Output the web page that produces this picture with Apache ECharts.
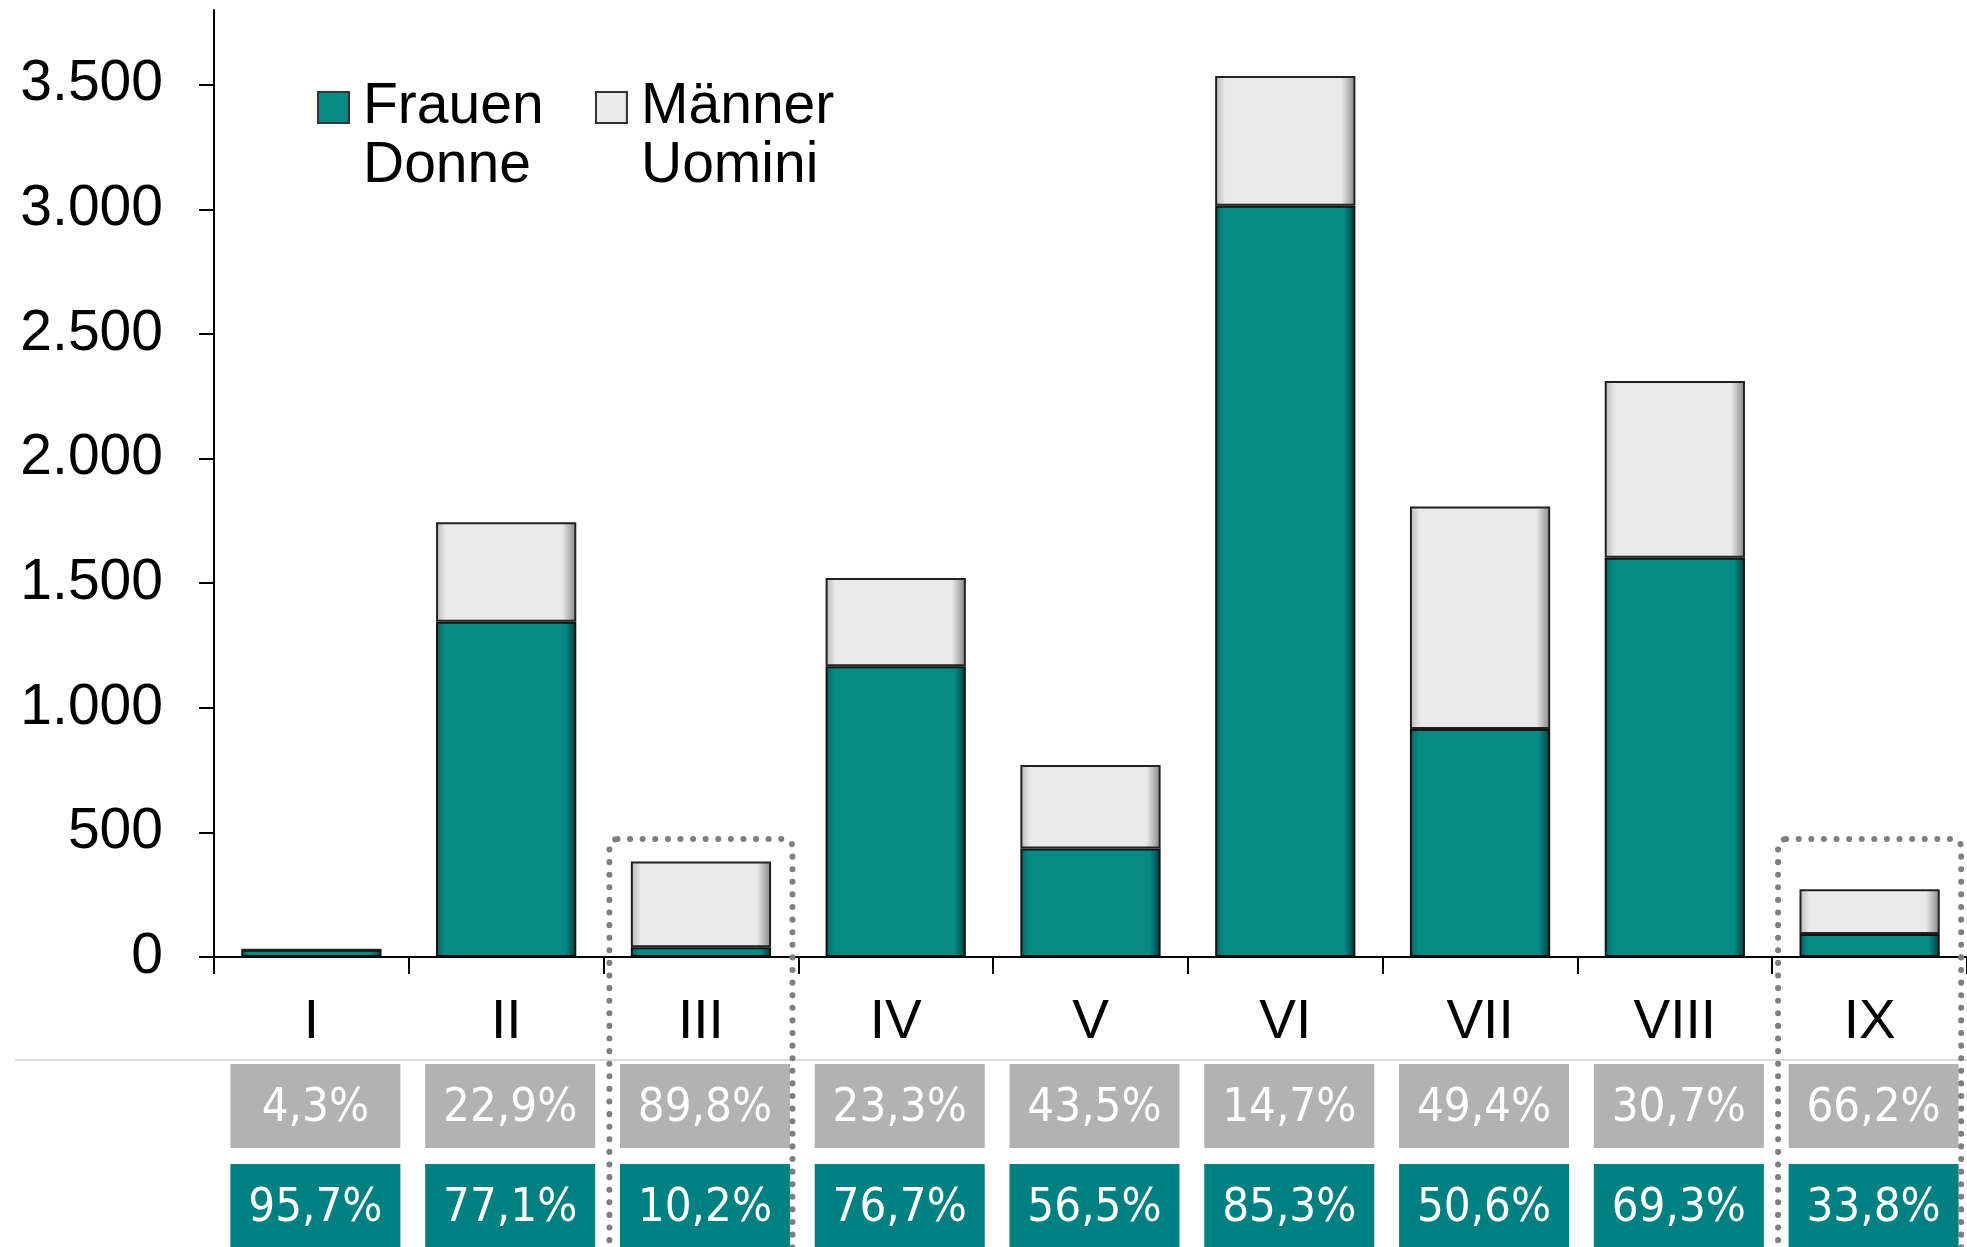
<!DOCTYPE html>
<html>
<head>
<meta charset="utf-8">
<script src="https://cdn.jsdelivr.net/npm/echarts@6/dist/echarts.min.js"></script>
<style>
  html, body { margin: 0; padding: 0; background: #fff; }
  #chart { width: 1967px; height: 1247px; }
</style>
</head>
<body>
<div id="chart"></div>
<script>
// data
const categories = ["I", "II", "III", "IV", "V", "VI", "VII", "VIII", "IX"];
const frauen = [29, 1345, 39, 1167, 435, 3015, 915, 1602, 92];
const maenner = [1, 400, 344, 354, 335, 520, 893, 709, 180];
const maennerPct = [4.3, 22.9, 89.8, 23.3, 43.5, 14.7, 49.4, 30.7, 66.2];
const frauenPct = [95.7, 77.1, 10.2, 76.7, 56.5, 85.3, 50.6, 69.3, 33.8];
const yTicks = [0, 500, 1000, 1500, 2000, 2500, 3000, 3500];
const framedCategories = ["III", "IX"];
const frameTop = 473;

const tealFill = {
  type: "linear", x: 0, y: 0, x2: 1, y2: 0,
  colorStops: [
    { offset: 0, color: "#0a5f5d" },
    { offset: 0.06, color: "#078986" },
    { offset: 0.92, color: "#078986" },
    { offset: 1, color: "#043b3a" },
  ],
};
const grayFill = {
  type: "linear", x: 0, y: 0, x2: 1, y2: 0,
  colorStops: [
    { offset: 0, color: "#b8b8b8" },
    { offset: 0.07, color: "#e9e9e9" },
    { offset: 0.9, color: "#e9e9e9" },
    { offset: 1, color: "#858585" },
  ],
};

const fmtThousands = (v) => String(v).replace(/\B(?=(\d{3})+(?!\d))/g, ".");
const fmtPct = (v) => v.toFixed(1).replace(".", ",") + "%";

const chart = echarts.init(document.getElementById("chart"));

// blank first line keeps the icon level with the first text line
const legendFormatter = (name) => ["{t| }"].concat(name.split("\n").map((l) => "{t|" + l + "}")).join("\n");
const legendText = {
  fontFamily: "Liberation Sans",
  fontSize: 57,
  color: "#000",
  rich: {
    t: { fontFamily: "Liberation Sans", fontSize: 57, lineHeight: 59, color: "#000", padding: [0, 0, 0, 9] },
  },
};
const legendBase = {
  top: 20, padding: 0,
  icon: "rect", itemWidth: 31, itemHeight: 31, itemGap: 12,
  formatter: legendFormatter,
  textStyle: legendText,
  itemStyle: { borderColor: "#333", borderWidth: 2 },
};

const pctLabel = {
  show: true, position: "inside", offset: [0, 3],
  formatter: (p) => fmtPct(p.value[2]),
  color: "#fff", fontFamily: "DejaVu Sans Condensed", fontSize: 47,
};

chart.setOption({
  animation: false,
  legend: [
    Object.assign({ data: ["Frauen\nDonne"], left: 317 }, legendBase),
    Object.assign({ data: ["Männer\nUomini"], left: 595 }, legendBase),
  ],
  grid: [
    { left: 214, right: -5, top: 10, bottom: 290 },
    { left: 214, right: -5, top: 1106, height: 100 },
  ],
  xAxis: [
    {
      type: "category",
      data: categories,
      gridIndex: 0,
      axisLine: { lineStyle: { color: "#000", width: 2 } },
      axisTick: { show: true, interval: 0, length: 17, lineStyle: { color: "#000", width: 2 } },
      axisLabel: {
        margin: 38, interval: 0,
        fontFamily: "Liberation Sans", fontSize: 55, color: "#000",
      },
    },
    {
      type: "category",
      data: categories,
      gridIndex: 1,
      show: false,
    },
  ],
  yAxis: [
    {
      type: "value",
      gridIndex: 0,
      min: 0,
      max: 3800,
      splitLine: { show: false },
      axisLine: { show: true, lineStyle: { color: "#000", width: 2 } },
      axisTick: { show: true, length: 15, customValues: yTicks, lineStyle: { color: "#000", width: 2 } },
      axisLabel: {
        customValues: yTicks,
        margin: 51,
        fontFamily: "Liberation Sans", fontSize: 57, color: "#000",
        formatter: fmtThousands,
      },
    },
    {
      // table rows: 0 = Männer share, 1 = Frauen share
      type: "value",
      min: 0,
      max: 1,
      inverse: true,
      gridIndex: 1,
      show: false,
    },
  ],
  series: [
    {
      name: "Frauen\nDonne",
      type: "bar",
      stack: "total",
      data: frauen,
      barWidth: "72%",
      itemStyle: { color: tealFill, borderColor: "#111", borderWidth: 2 },
    },
    {
      name: "Männer\nUomini",
      type: "bar",
      stack: "total",
      data: maenner,
      barWidth: "72%",
      itemStyle: { color: grayFill, borderColor: "#222", borderWidth: 2 },
    },
    {
      name: "maennerPct",
      type: "scatter",
      xAxisIndex: 1,
      yAxisIndex: 1,
      symbol: "rect",
      symbolSize: [170, 84],
      symbolOffset: [4, 0],
      data: maennerPct.map((v, i) => [categories[i], 0, v]),
      itemStyle: { color: "#b2b2b2", opacity: 1 },
      label: pctLabel,
      silent: true,
    },
    {
      name: "frauenPct",
      type: "scatter",
      xAxisIndex: 1,
      yAxisIndex: 1,
      symbol: "rect",
      symbolSize: [170, 84],
      symbolOffset: [4, 0],
      data: frauenPct.map((v, i) => [categories[i], 1, v]),
      itemStyle: { color: "#008080", opacity: 1 },
      label: pctLabel,
      silent: true,
    },
  ],
});

// dotted frames around the highlighted categories, placed through the axes
const band = chart.convertToPixel({ xAxisIndex: 0 }, categories[1]) - chart.convertToPixel({ xAxisIndex: 0 }, categories[0]);
const topY = chart.convertToPixel({ yAxisIndex: 0 }, frameTop);
const tableY = chart.convertToPixel({ yAxisIndex: 0 }, 0) + 103;
const frames = framedCategories.map((c) => {
  const cx = chart.convertToPixel({ xAxisIndex: 0 }, c);
  return {
    type: "rect",
    z: 10,
    shape: { x: cx - 0.47 * band, y: topY, width: 0.94 * band, height: 600, r: 8 },
    style: { fill: null, stroke: "#7f7f7f", lineWidth: 6, lineDash: [0.1, 12.5], lineCap: "round" },
  };
});
frames.push({
  type: "line",
  z: 0,
  shape: { x1: 15, y1: tableY, x2: 1967, y2: tableY },
  style: { stroke: "#dcdcdc", lineWidth: 2 },
});
chart.setOption({ graphic: frames });

window.addEventListener("resize", () => chart.resize());
</script>
</body>
</html>
